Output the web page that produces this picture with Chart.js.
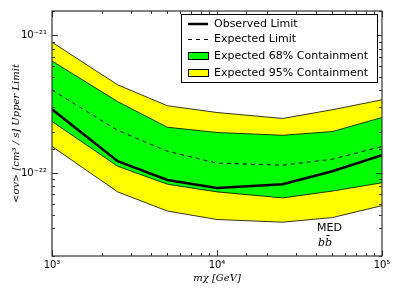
<!DOCTYPE html>
<html>
<head>
<meta charset="utf-8">
<script src="https://cdn.jsdelivr.net/npm/chart.js@4.4.1/dist/chart.umd.min.js"></script>
<style>
  html, body { margin: 0; padding: 0; background: #fff; }
  #wrap { width: 399px; height: 299px; }
</style>
</head>
<body>
<div id="wrap"><canvas id="limitChart"></canvas></div>
<script>
// masses (GeV)
const masses = [1000, 2500, 5000, 10000, 25000, 50000, 100000];
// limits on <sigma v> (cm^3/s)
const observed = [2.9e-22, 1.22e-22, 8.9e-23, 7.8e-23, 8.3e-23, 1.03e-22, 1.35e-22];
const expected = [4.0e-22, 2.04e-22, 1.44e-22, 1.18e-22, 1.14e-22, 1.26e-22, 1.56e-22];
const band68Up = [6.5e-22, 3.3e-22, 2.15e-22, 1.97e-22, 1.88e-22, 2.0e-22, 2.53e-22];
const band68Lo = [2.37e-22, 1.12e-22, 8.3e-23, 7.3e-23, 6.6e-23, 7.4e-23, 8.5e-23];
const band95Up = [8.9e-22, 4.37e-22, 3.08e-22, 2.75e-22, 2.49e-22, 2.88e-22, 3.4e-22];
const band95Lo = [1.56e-22, 7.3e-23, 5.3e-23, 4.6e-23, 4.4e-23, 4.75e-23, 5.8e-23];

const xLabels = { 3: '10³', 4: '10⁴', 5: '10⁵' };
const yLabels = { '-21': '10⁻²¹', '-22': '10⁻²²' };

function pts(vals) {
    return masses.map((m, i) => ({ x: m, y: vals[i] }));
}
function decade(v) {
    const l = Math.log10(v);
    return Math.abs(l - Math.round(l)) < 1e-6 ? Math.round(l) : null;
}

// inward ticks on all four sides, frame, legend and annotation
const decor = {
    id: 'decor',
    afterDraw(chart) {
        const c = chart.ctx, a = chart.chartArea;
        const sx = chart.scales.x, sy = chart.scales.y;
        c.save();
        c.strokeStyle = '#333';
        c.lineWidth = 1;
        c.beginPath();
        sx.ticks.forEach(t => {
            const px = Math.round(sx.getPixelForValue(t.value)) + 0.5;
            const len = decade(t.value) !== null ? 6 : 3;
            c.moveTo(px, a.bottom); c.lineTo(px, a.bottom - len);
            c.moveTo(px, a.top); c.lineTo(px, a.top + len);
        });
        sy.ticks.forEach(t => {
            const py = Math.round(sy.getPixelForValue(t.value)) + 0.5;
            const len = decade(t.value) !== null ? 6 : 3;
            c.moveTo(a.left, py); c.lineTo(a.left + len, py);
            c.moveTo(a.right, py); c.lineTo(a.right - len, py);
        });
        c.stroke();
        c.lineWidth = 1.2;
        c.strokeRect(a.left, a.top, a.right - a.left, a.bottom - a.top);

        // legend
        c.fillStyle = '#fff';
        c.fillRect(181, 14, 196, 68);
        c.strokeStyle = '#000';
        c.lineWidth = 1;
        c.strokeRect(181.5, 14.5, 196, 68);
        c.font = '11px "DejaVu Sans"';
        c.textBaseline = 'middle';
        c.textAlign = 'left';
        const rows = [
            { text: 'Observed Limit', y: 24, kind: 'line' },
            { text: 'Expected Limit', y: 39, kind: 'dash' },
            { text: 'Expected 68% Containment', y: 56, kind: 'box', color: '#00ff00' },
            { text: 'Expected 95% Containment', y: 73, kind: 'box', color: '#ffff00' }
        ];
        rows.forEach(r => {
            if (r.kind === 'line') {
                c.lineWidth = 2.5; c.setLineDash([]);
                c.beginPath(); c.moveTo(188, r.y); c.lineTo(208, r.y); c.stroke();
            } else if (r.kind === 'dash') {
                c.lineWidth = 1; c.setLineDash([4, 4]);
                c.beginPath(); c.moveTo(188, r.y + 0.5); c.lineTo(208, r.y + 0.5); c.stroke();
                c.setLineDash([]);
            } else {
                c.fillStyle = r.color;
                c.fillRect(188, r.y - 4, 20, 8);
                c.lineWidth = 1;
                c.strokeRect(188.5, r.y - 3.5, 20, 7);
            }
            c.fillStyle = '#000';
            c.fillText(r.text, 214, r.y);
        });

        // annotation
        c.font = '11px "DejaVu Sans"';
        c.fillText('MED', 317, 228);
        c.font = 'italic 11px "DejaVu Serif"';
        c.fillText('bb̄', 318, 243);
        c.restore();
    }
};

const ctx = document.getElementById('limitChart').getContext('2d');
const limitChart = new Chart(ctx, {
    type: 'line',
    data: {
        datasets: [
            { label: 'Expected 95% Containment', data: pts(band95Up), fill: '+1',
              backgroundColor: '#ffff00', borderColor: '#000', borderWidth: 0.8, order: 6 },
            { label: '95 low', data: pts(band95Lo), fill: false,
              borderColor: '#000', borderWidth: 0.8, order: 5 },
            { label: 'Expected 68% Containment', data: pts(band68Up), fill: '+1',
              backgroundColor: '#00ff00', borderColor: '#000', borderWidth: 0.8, order: 4 },
            { label: '68 low', data: pts(band68Lo), fill: false,
              borderColor: '#000', borderWidth: 0.8, order: 3 },
            { label: 'Expected Limit', data: pts(expected), fill: false,
              borderColor: '#000', borderWidth: 1, borderDash: [4, 4], order: 2 },
            { label: 'Observed Limit', data: pts(observed), fill: false,
              borderColor: '#000', borderWidth: 2.5, order: 1 }
        ]
    },
    options: {
        responsive: true,
        maintainAspectRatio: false,
        animation: false,
        elements: { point: { radius: 0 }, line: { tension: 0 } },
        layout: { padding: { top: 6, right: 17, left: 0, bottom: 0 } },
        plugins: { legend: { display: false }, tooltip: { enabled: false } },
        scales: {
            x: {
                type: 'logarithmic',
                min: 1000,
                max: 100000,
                grid: { display: false, drawTicks: false },
                border: { display: false },
                afterFit(s) { s.height = 43; },
                ticks: {
                    autoSkip: false,
                    maxRotation: 0,
                    padding: 3,
                    color: '#000',
                    font: { family: 'DejaVu Sans', size: 10 },
                    callback: v => { const d = decade(v); return d !== null ? xLabels[d] : ''; }
                },
                title: {
                    display: true,
                    text: 'mχ [GeV]',
                    color: '#000',
                    padding: { top: 2, bottom: 15 },
                    font: { family: 'DejaVu Serif', style: 'italic', size: 10 }
                }
            },
            y: {
                type: 'logarithmic',
                min: 2.5e-23,
                max: 1.5e-21,
                grid: { display: false, drawTicks: false },
                border: { display: false },
                afterFit(s) { s.width = 52; },
                ticks: {
                    autoSkip: false,
                    padding: 5,
                    color: '#000',
                    font: { family: 'DejaVu Sans', size: 10 },
                    callback: v => { const d = decade(v); return d !== null ? yLabels[String(d)] : ''; }
                },
                title: {
                    display: true,
                    text: '<σv> [cm³ / s] Upper Limit',
                    color: '#000',
                    padding: { top: 10, bottom: 2 },
                    font: { family: 'DejaVu Serif', style: 'italic', size: 10 }
                }
            }
        }
    },
    plugins: [decor]
});
</script>
</body>
</html>
